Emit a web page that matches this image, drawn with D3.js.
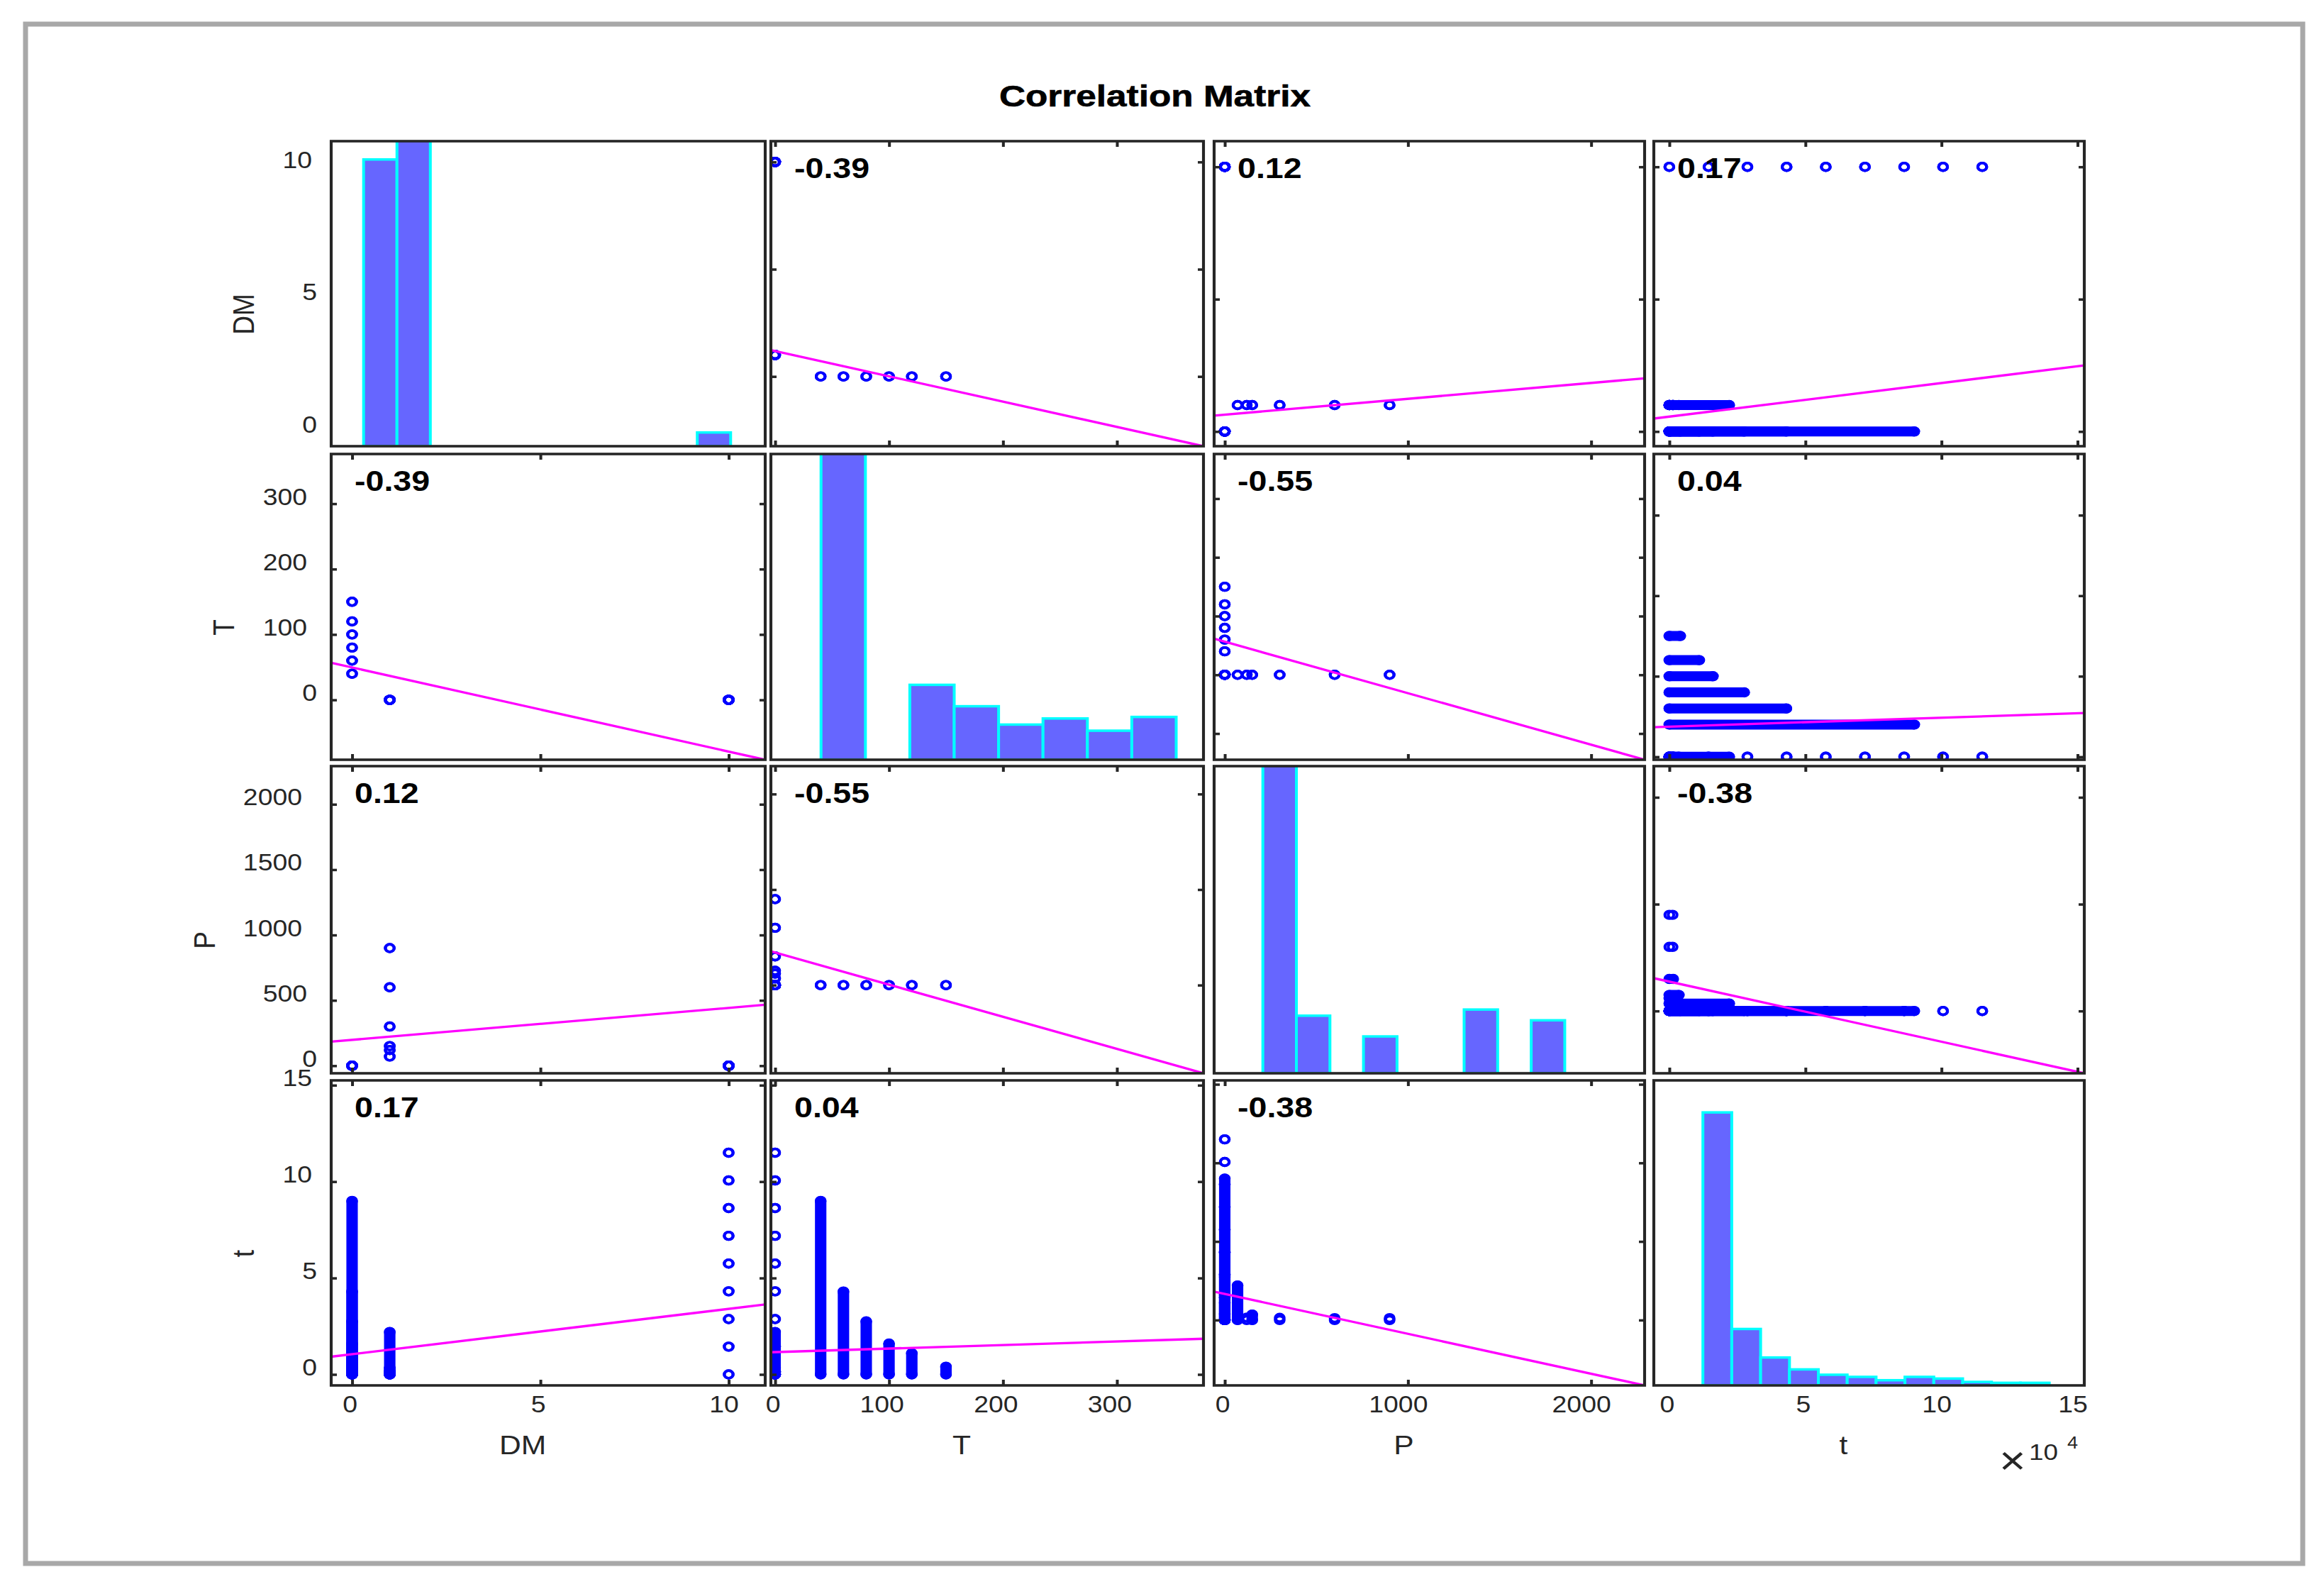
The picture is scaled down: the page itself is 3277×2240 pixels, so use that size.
<!DOCTYPE html>
<html>
<head>
<meta charset="utf-8">
<script src="https://cdn.jsdelivr.net/npm/d3@7"></script>
<style>
  body { margin: 0; background: #fff; }
  svg { display: block; }
  text { font-family: "Liberation Sans", Arial, sans-serif; }
</style>
</head>
<body>
<svg id="chart"></svg>
<script>
// ---- data ----
const varNames = ["DM", "T", "P", "t"];

// groups of observations that share DM, T and P; t (x1e4) runs over a range
const runDM       = [0, 0, 0, 0, 0, 0, 1, 1, 1, 1, 1, 1];
const runT        = [40, 60, 80, 100, 120, 150, 0, 0, 0, 0, 0, 0];
const runP        = [0, 0, 0, 0, 0, 0, 70, 120, 150, 300, 600, 900];
const runTimeFrom = [0, 0, 0, 0, 0, 0, 0, 0, 0, 0, 0, 0];
const runTimeTo   = [9.0, 4.3, 2.75, 1.6, 1.1, 0.4, 2.2, 0.15, 0.35, 0.14, 0.12, 0.12];

// single observations with DM = 10, T = 0, P = 0
const soloDM = 10, soloT = 0, soloP = 0;
const soloTime = [0, 1.44, 2.87, 4.31, 5.75, 7.19, 8.63, 10.06, 11.5];

// axis limits of each variable
const varLo = [-0.555, -3.7, -58, -0.57];
const varHi = [10.97, 376, 2292, 15.25];

// correlation coefficients
const corrMatrix = [
  [1, -0.39, 0.12, 0.17],
  [-0.39, 1, -0.55, 0.04],
  [0.12, -0.55, 1, -0.38],
  [0.17, 0.04, -0.38, 1]
];

// least squares lines, row variable on column variable
const fitIntercept = [
  [null, 1.186, 0.635, 0.562],
  [49.6, null, 56.4, 37.4],
  [197.6, 340.6, null, 274.9],
  [1.05, 1.157, 1.663, null]
];
const fitSlope = [
  [null, -0.0118, 0.0006, 0.127],
  [-12.87, null, -0.0877, 1.106],
  [24.47, -3.361, null, -56.26],
  [0.235, 0.00184, -0.00254, null]
];

// histogram counts on the diagonal
const histDM   = [188, 230, 0, 0, 0, 0, 0, 0, 0, 0, 9];
const histT    = [230, 0, 49, 35, 23, 27, 19, 28];
const histP    = [230, 37.5, 0, 24, 0, 0, 41.5, 0, 34.5];
const histTime = [179, 37, 18.3, 10.5, 7, 5.6, 3.4, 5.6, 4.5, 2.3, 1.7, 1.7];
const histMax = 200;

const xTickCount = [3, 4, 3, 3];
const yTickCount = [3, 4, 4, 3];

// ---- layout ----
const W = 3277, H = 2240;
const SX = 1.15;   // the reference is stretched sideways
const px = x => x / SX;
const colLeft = [467, 1087, 1712, 2332], colRight = [1079, 1697, 2319, 2939];
const rowTop = [199, 640, 1080, 1523], rowBottom = [629, 1071, 1513, 1953];
const binStart = [512.7, 1157.7, 1780.7, 2401.2], binWidth = [47.05, 62.6, 47.3, 40.7];

const axisColor = "#262626";
const plain = d => String(d);

const svg = d3.select("#chart").attr("width", W).attr("height", H);
svg.append("rect").attr("width", W).attr("height", H).attr("fill", "#fff");
svg.append("rect")
  .attr("x", 36).attr("y", 34).attr("width", 3211).attr("height", 2170)
  .attr("fill", "#fff").attr("stroke", "#a8a8a8").attr("stroke-width", 7);

const g = svg.append("g").attr("transform", `scale(${SX},1)`);
const defs = svg.append("defs");

const runs = runDM.map((d, i) => ({ vals: [runDM[i], runT[i], runP[i]], lo: runTimeFrom[i], hi: runTimeTo[i] }));
soloTime.forEach(t => runs.push({ vals: [soloDM, soloT, soloP], lo: t, hi: t }));
function val(run, v, end) { return v === 3 ? (end ? run.hi : run.lo) : run.vals[v]; }

const xScales = varNames.map((n, c) =>
  d3.scaleLinear().domain([varLo[c], varHi[c]]).range([px(colLeft[c]), px(colRight[c])]));

function yScaleFor(r, c) {
  let lo = varLo[r];
  if (r !== c) {
    const f = x => fitIntercept[r][c] + fitSlope[r][c] * x;
    lo = Math.min(lo, f(varLo[c]), f(varHi[c]));
  }
  return d3.scaleLinear().domain([lo, varHi[r]]).range([rowBottom[r], rowTop[r]]);
}

function styleTicks(sel) {
  sel.select(".domain").remove();
  sel.selectAll(".tick line").attr("stroke", axisColor).attr("stroke-width", 3.5);
}

const histData = [histDM, histT, histP, histTime];

for (let r = 0; r < 4; r++) {
  for (let c = 0; c < 4; c++) {
    const L = px(colLeft[c]), R = px(colRight[c]), T = rowTop[r], B = rowBottom[r];
    const panel = g.append("g").attr("class", "panel");
    const clipId = `clip-${r}-${c}`;
    defs.append("clipPath").attr("id", clipId).append("rect")
      .attr("x", L).attr("y", T).attr("width", R - L).attr("height", B - T);
    const inner = panel.append("g").attr("clip-path", `url(#${clipId})`);

    if (r === c) {
      const counts = histData[c];
      const hx = d3.scaleLinear()
        .domain([(colLeft[c] - binStart[c]) / binWidth[c], (colRight[c] - binStart[c]) / binWidth[c]])
        .range([L, R]);
      const hy = d3.scaleLinear().domain([0, histMax]).range([B, T]);
      inner.selectAll("rect.bar")
        .data(counts.map((n, i) => ({ i, n })).filter(d => d.n > 0))
        .join("rect").attr("class", "bar")
        .attr("x", d => hx(d.i)).attr("width", d => hx(d.i + 1) - hx(d.i))
        .attr("y", d => hy(d.n)).attr("height", d => B - hy(d.n))
        .attr("fill", "#6666ff").attr("stroke", "#00ffff").attr("stroke-width", 3.5);
    } else {
      const x = xScales[c], y = yScaleFor(r, c);
      const segs = runs.map(run => ({
        x0: x(val(run, c, false)), y0: y(val(run, r, false)),
        x1: x(val(run, c, true)),  y1: y(val(run, r, true))
      }));
      // dense runs: overlapping markers read as one solid band
      inner.selectAll("line.run")
        .data(segs.filter(s => Math.hypot((s.x1 - s.x0) * SX, s.y1 - s.y0) >= 5))
        .join("line").attr("class", "run")
        .attr("x1", d => d.x0).attr("y1", d => d.y0).attr("x2", d => d.x1).attr("y2", d => d.y1)
        .attr("stroke", "#0000ff").attr("stroke-width", 14).attr("stroke-linecap", "round");
      const ends = segs.flatMap(s => [[s.x0, s.y0], [s.x1, s.y1]]);
      inner.selectAll("circle.pt").data(ends).join("circle").attr("class", "pt")
        .attr("cx", d => d[0]).attr("cy", d => d[1]).attr("r", 5.4)
        .attr("fill", "none").attr("stroke", "#0000ff").attr("stroke-width", 3.6);

      const f = v => fitIntercept[r][c] + fitSlope[r][c] * v;
      inner.append("line")
        .attr("x1", x(varLo[c])).attr("y1", y(f(varLo[c])))
        .attr("x2", x(varHi[c])).attr("y2", y(f(varHi[c])))
        .attr("stroke", "#ff00ff").attr("stroke-width", 3.3);

      // inward ticks on all four sides
      panel.append("g").attr("transform", `translate(0,${B})`)
        .call(d3.axisBottom(x).ticks(xTickCount[c]).tickSize(-8).tickFormat("")).call(styleTicks);
      panel.append("g").attr("transform", `translate(0,${T})`)
        .call(d3.axisTop(x).ticks(xTickCount[c]).tickSize(-8).tickFormat("")).call(styleTicks);
      panel.append("g").attr("transform", `translate(${L},0)`)
        .call(d3.axisLeft(y).ticks(yTickCount[r]).tickSize(-8 / SX).tickFormat("")).call(styleTicks);
      panel.append("g").attr("transform", `translate(${R},0)`)
        .call(d3.axisRight(y).ticks(yTickCount[r]).tickSize(-8 / SX).tickFormat("")).call(styleTicks);
    }

    panel.append("rect")
      .attr("x", L).attr("y", T).attr("width", R - L).attr("height", B - T)
      .attr("fill", "none").attr("stroke", axisColor).attr("stroke-width", 3.6);

    if (r !== c) {
      panel.append("text")
        .attr("x", px(colLeft[c] + 33)).attr("y", T + 52.5)
        .attr("font-size", 40.5).attr("font-weight", "bold").attr("fill", "#000")
        .text(corrMatrix[r][c].toFixed(2));
    }
  }
}

// ---- tick labels ----
const tickFont = 32.5;
for (let c = 0; c < 4; c++) {
  const ax = g.append("g").attr("transform", `translate(0,${rowBottom[3]})`)
    .call(d3.axisBottom(xScales[c]).ticks(xTickCount[c]).tickSize(0).tickFormat(plain));
  ax.select(".domain").remove();
  ax.selectAll(".tick text")
    .attr("y", 38).attr("dy", "0")
    .attr("dx", function () { return -3.5 * this.textContent.length / SX; })
    .attr("font-size", tickFont).attr("font-family", null).attr("fill", axisColor);
}
const yLabelBase = [];
for (let r = 0; r < 4; r++) {
  const y = yScaleFor(r, 0);
  const ax = g.append("g").attr("transform", `translate(${px(colLeft[0])},0)`)
    .call(d3.axisLeft(y).ticks(yTickCount[r]).tickSize(0).tickFormat(plain));
  ax.select(".domain").remove();
  let longest = 0;
  ax.selectAll(".tick text")
    .attr("x", function () {
      const n = this.textContent.length;
      longest = Math.max(longest, n);
      return -(colLeft[0] - (454 - 7 * n)) / SX;
    })
    .attr("y", 1).attr("dy", "0")
    .attr("font-size", tickFont).attr("font-family", null).attr("fill", axisColor);
  yLabelBase.push(412 - 27.2 * longest);
}

// ---- variable names ----
varNames.forEach((name, c) => {
  g.append("text")
    .attr("x", px((colLeft[c] + colRight[c]) / 2 - 36)).attr("y", 2050)
    .attr("text-anchor", "middle").attr("font-size", 37).attr("fill", axisColor)
    .text(name);
});
varNames.forEach((name, r) => {
  g.append("text")
    .attr("transform", `translate(${px(yLabelBase[r])},${(rowTop[r] + rowBottom[r]) / 2 + 29}) rotate(-90)`)
    .attr("text-anchor", "middle").attr("font-size", 37).attr("fill", axisColor)
    .text(name);
});

// exponent of the t axis
g.append("text").attr("x", px(2819)).attr("y", 2078).attr("font-size", 56).attr("fill", axisColor).text("\u00d7");
g.append("text").attr("x", px(2861)).attr("y", 2058).attr("font-size", 32).attr("fill", axisColor).text("10");
g.append("text").attr("x", px(2915)).attr("y", 2042).attr("font-size", 23.5).attr("fill", axisColor).text("4");

// ---- title ----
g.append("text")
  .attr("x", px(1628.5)).attr("y", 150.5)
  .attr("text-anchor", "middle").attr("font-size", 42).attr("font-weight", "bold").attr("fill", "#000")
  .attr("stroke", "#000").attr("stroke-width", 0.6)
  .attr("textLength", px(439)).attr("lengthAdjust", "spacingAndGlyphs")
  .text("Correlation Matrix");
</script>
</body>
</html>
